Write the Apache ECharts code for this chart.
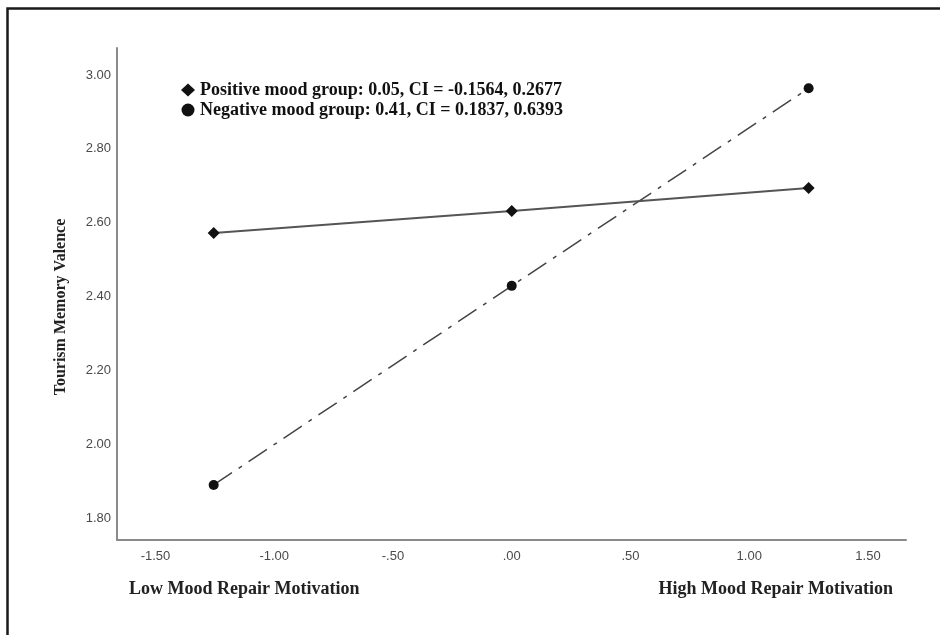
<!DOCTYPE html>
<html>
<head>
<meta charset="utf-8">
<script src="https://cdn.jsdelivr.net/npm/echarts@6/dist/echarts.min.js"></script>
<style>
  html, body { margin: 0; padding: 0; background: #fff; }
  #chart { width: 940px; height: 635px; }
</style>
</head>
<body>
<div id="chart"></div>
<script>
// ---- data ----
const xValues = [-1.255, 0, 1.25];
const positiveValues = [2.572, 2.632, 2.694];
const negativeValues = [1.890, 2.429, 2.964];
const positiveName = 'Positive mood group: 0.05, CI = -0.1564, 0.2677';
const negativeName = 'Negative mood group: 0.41, CI = 0.1837, 0.6393';
const xTickValues = [-1.5, -1.0, -0.5, 0, 0.5, 1.0, 1.5];
const xTickLabels = ['-1.50', '-1.00', '-.50', '.00', '.50', '1.00', '1.50'];
const yTickValues = [1.8, 2.0, 2.2, 2.4, 2.6, 2.8, 3.0];
const yTickLabels = ['1.80', '2.00', '2.20', '2.40', '2.60', '2.80', '3.00'];
const yAxisTitle = 'Tourism Memory Valence';
const xLowLabel = 'Low Mood Repair Motivation';
const xHighLabel = 'High Mood Repair Motivation';

function labelFor(values, labels, v) {
  for (let i = 0; i < values.length; i++) {
    if (Math.abs(values[i] - v) < 1e-6) return labels[i];
  }
  return '';
}

const serif = '"Liberation Serif", "Times New Roman", serif';
const chart = echarts.init(document.getElementById('chart'), null, { renderer: 'canvas' });

chart.setOption({
  animation: false,
  backgroundColor: '#fff',
  grid: { left: 117, top: 48, width: 789, height: 492, containLabel: false },
  xAxis: {
    type: 'value',
    min: -1.662,
    max: 1.660,
    axisLine: { show: true, onZero: false, lineStyle: { color: '#8a8a8a', width: 2 } },
    axisTick: { show: false },
    splitLine: { show: false },
    axisLabel: {
      customValues: xTickValues,
      formatter: v => labelFor(xTickValues, xTickLabels, v),
      color: '#4a4a4a',
      fontFamily: '"Liberation Sans", Arial, sans-serif',
      fontSize: 13,
      margin: 10
    }
  },
  yAxis: {
    type: 'value',
    min: 1.741,
    max: 3.073,
    axisLine: { show: true, onZero: false, lineStyle: { color: '#8a8a8a', width: 2 } },
    axisTick: { show: false },
    splitLine: { show: false },
    axisLabel: {
      customValues: yTickValues,
      formatter: v => labelFor(yTickValues, yTickLabels, v),
      color: '#4a4a4a',
      fontFamily: '"Liberation Sans", Arial, sans-serif',
      fontSize: 13,
      margin: 6
    }
  },
  legend: {
    orient: 'vertical',
    left: 181,
    top: 81,
    padding: 0,
    itemGap: 2,
    itemWidth: 14,
    itemHeight: 13,
    selectedMode: false,
    textStyle: {
      fontFamily: serif,
      fontWeight: 'bold',
      fontSize: 18,
      color: '#111'
    },
    data: [
      { name: positiveName, icon: 'diamond' },
      { name: negativeName, icon: 'circle' }
    ]
  },
  series: [
    {
      name: positiveName,
      type: 'line',
      data: xValues.map((x, i) => [x, positiveValues[i]]),
      symbol: 'diamond',
      symbolSize: 12,
      itemStyle: { color: '#111' },
      lineStyle: { color: '#555', width: 2 },
      z: 3
    },
    {
      name: negativeName,
      type: 'line',
      data: xValues.map((x, i) => [x, negativeValues[i]]),
      symbol: 'circle',
      symbolSize: 10,
      itemStyle: { color: '#111' },
      lineStyle: { color: '#444', width: 1.5, type: [22, 8, 4, 8] },
      z: 2
    }
  ],
  graphic: [
    {
      type: 'rect',
      silent: true,
      shape: { x: 7.5, y: 8.5, width: 1000, height: 700 },
      style: { fill: 'none', stroke: '#1a1a1a', lineWidth: 2.5 }
    },
    {
      type: 'text',
      silent: true,
      x: 61,
      y: 307,
      rotation: Math.PI / 2,
      style: {
        text: yAxisTitle,
        font: 'bold 16px ' + serif,
        fill: '#222',
        align: 'center',
        verticalAlign: 'middle'
      }
    },
    {
      type: 'text',
      silent: true,
      x: 129,
      y: 589,
      style: {
        text: xLowLabel,
        font: 'bold 18px ' + serif,
        fill: '#222',
        align: 'left',
        verticalAlign: 'middle'
      }
    },
    {
      type: 'text',
      silent: true,
      x: 893,
      y: 589,
      style: {
        text: xHighLabel,
        font: 'bold 18px ' + serif,
        fill: '#222',
        align: 'right',
        verticalAlign: 'middle'
      }
    }
  ]
});
</script>
</body>
</html>
